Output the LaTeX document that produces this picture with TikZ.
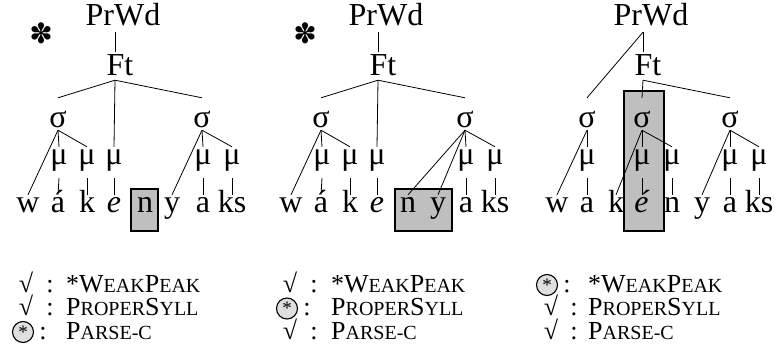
\documentclass[tikz,border=0pt]{standalone}
\usepackage{fontspec}
\setmainfont{Liberation Serif}
\newfontfamily\dingfont{DejaVu Sans}
\newcommand\treefont{\fontsize{32}{34}\selectfont}
\newcommand\consfont{\fontsize{26}{28}\selectfont}
\newcommand\smc[1]{{\fontsize{20}{21}\selectfont #1}}
\tikzset{
  tn/.style={inner sep=0pt, anchor=base, font=\treefont},
  prwd/.style={tn, text height=21pt, text depth=7pt},
  ftn/.style={tn, text height=23pt, text depth=5pt},
  sig/.style={tn, text height=29pt, text depth=3pt},
  mun/.style={tn, text height=17pt, text depth=14pt},
  seg/.style={tn, text height=17pt, text depth=6pt},
  edge/.style={line width=0.8pt},
  hibox/.style={draw=black, line width=1.5pt, fill=gray!50},
  bigstar/.style={font=\dingfont\fontsize{28}{28}\selectfont, inner sep=0pt},
  okmark/.style={font=\consfont, inner sep=0pt, anchor=base},
  cons/.style={font=\consfont, inner sep=0pt, anchor=base west},
  viol/.style={circle, draw=black, line width=1.1pt, fill=gray!25, minimum size=21pt, inner sep=0pt},
  violstar/.style={font=\fontsize{19}{19}\selectfont, inner sep=0pt},
}
\begin{document}
\begin{tikzpicture}[x=1pt,y=-1pt]
\useasboundingbox (0,0) rectangle (779,356);

% ---------------- panel 1 ----------------
\begin{scope}[name prefix=a-]
\draw[hibox] (131,189) rectangle (158,231);
\node[bigstar] (ast) at (41,33) {✽};
\node[prwd] (P) at (123,25) {PrWd};
\node[ftn] (F) at (120,75) {Ft};
\node[sig] (s1) at (58,127) {σ};
\node[sig] (s2) at (202,127) {σ};
\node[mun] (m1) at (59,164) {μ};
\node[mun] (m2) at (87,164) {μ};
\node[mun] (m3) at (114,164) {μ};
\node[mun] (m4) at (203,164) {μ};
\node[mun] (m5) at (232,164) {μ};
\node[seg] (w) at (28,212) {w};
\node[seg] (a1) at (58,212) {á};
\node[seg] (k) at (87,212) {k};
\node[seg] (e) at (114,212) {\textit{e}};
\node[seg] (n) at (145,212) {n};
\node[seg] (y) at (172,212) {y};
\node[seg] (a2) at (203,212) {a};
\node[seg] (ks) at (232,212) {ks};
\draw[edge] ([xshift=-8pt]P.south) -- ([xshift=-5pt]F.north);
\draw[edge] ([xshift=-5pt]F.south) -- (s1.north);
\draw[edge] ([xshift=-5pt]F.south) -- (m3.north);
\draw[edge] ([xshift=-5pt]F.south) -- (s2.north);
\draw[edge] (s1.south) -- (w.north);
\draw[edge] (s1.south) -- (m1.north);
\draw[edge] (s1.south) -- (m2.north);
\draw[edge] (s2.south) -- (y.north);
\draw[edge] (s2.south) -- (m4.north);
\draw[edge] (s2.south) -- (m5.north);
\draw[edge] (m1.south) -- (a1.north);
\draw[edge] (m2.south) -- (k.north);
\draw[edge] (m3.south) -- (e.north);
\draw[edge] (m4.south) -- (a2.north);
\draw[edge] (m5.south) -- (ks.north);
\end{scope}

% ---------------- panel 2 ----------------
\begin{scope}[xshift=263pt, name prefix=b-]
\draw[hibox] (132,189) rectangle (189,231);
\node[bigstar] (ast) at (42,33) {✽};
\node[prwd] (P) at (123,25) {PrWd};
\node[ftn] (F) at (120,75) {Ft};
\node[sig] (s1) at (58,127) {σ};
\node[sig] (s2) at (202,127) {σ};
\node[mun] (m1) at (59,164) {μ};
\node[mun] (m2) at (87,164) {μ};
\node[mun] (m3) at (114,164) {μ};
\node[mun] (m4) at (203,164) {μ};
\node[mun] (m5) at (232,164) {μ};
\node[seg] (w) at (28,212) {w};
\node[seg] (a1) at (58,212) {á};
\node[seg] (k) at (87,212) {k};
\node[seg] (e) at (114,212) {\textit{e}};
\node[seg] (n) at (145,212) {n};
\node[seg] (y) at (175,212) {y};
\node[seg] (a2) at (203,212) {a};
\node[seg] (ks) at (232,212) {ks};
\draw[edge] ([xshift=-8pt]P.south) -- ([xshift=-5pt]F.north);
\draw[edge] ([xshift=-5pt]F.south) -- (s1.north);
\draw[edge] ([xshift=-5pt]F.south) -- (m3.north);
\draw[edge] ([xshift=-5pt]F.south) -- (s2.north);
\draw[edge] (s1.south) -- (w.north);
\draw[edge] (s1.south) -- (m1.north);
\draw[edge] (s1.south) -- (m2.north);
\draw[edge] (s2.south) -- (n.north);
\draw[edge] (s2.south) -- (y.north);
\draw[edge] (s2.south) -- (m4.north);
\draw[edge] (s2.south) -- (m5.north);
\draw[edge] (m1.south) -- (a1.north);
\draw[edge] (m2.south) -- (k.north);
\draw[edge] (m3.south) -- (e.north);
\draw[edge] (m4.south) -- (a2.north);
\draw[edge] (m5.south) -- (ks.north);
\end{scope}

% ---------------- panel 3 ----------------
\begin{scope}[xshift=528pt, name prefix=c-]
\draw[hibox] (96,91) rectangle (136,231);
\node[prwd] (P) at (123,25) {PrWd};
\node[ftn] (F) at (120,75) {Ft};
\node[sig] (s1) at (59,127) {σ};
\node[sig] (s2) at (114,127) {σ};
\node[sig] (s3) at (202,127) {σ};
\node[mun] (m1) at (59,164) {μ};
\node[mun] (m2) at (114,164) {μ};
\node[mun] (m3) at (144,164) {μ};
\node[mun] (m4) at (202,164) {μ};
\node[mun] (m5) at (231,164) {μ};
\node[seg] (w) at (29,212) {w};
\node[seg] (a1) at (59,212) {a};
\node[seg] (k) at (88,212) {k};
\node[seg] (e) at (114,212) {\textit{é}};
\node[seg] (n) at (144,212) {n};
\node[seg] (y) at (174,212) {y};
\node[seg] (a2) at (202,212) {a};
\node[seg] (ks) at (231,212) {ks};
\draw[edge] ([xshift=-8pt]P.south) -- ([xshift=-5pt]F.north);
\draw[edge] ([xshift=-8pt]P.south) -- (s1.north);
\draw[edge] ([xshift=-5pt]F.south) -- (s2.north);
\draw[edge] ([xshift=-5pt]F.south) -- (s3.north);
\draw[edge] (s1.south) -- (w.north);
\draw[edge] (s1.south) -- (m1.north);
\draw[edge] (s2.south) -- (k.north);
\draw[edge] (s2.south) -- (m2.north);
\draw[edge] (s2.south) -- (m3.north);
\draw[edge] (s3.south) -- (y.north);
\draw[edge] (s3.south) -- (m4.north);
\draw[edge] (s3.south) -- (m5.north);
\draw[edge] (m1.south) -- (a1.north);
\draw[edge] (m2.south) -- (e.north);
\draw[edge] (m3.south) -- (n.north);
\draw[edge] (m4.south) -- (a2.north);
\draw[edge] (m5.south) -- (ks.north);
\end{scope}

% ---------------- constraint tableaux ----------------
% column 1
\node[okmark] (c1m1) at (26,292) {√};
\node[okmark] (c1k1) at (50,292) {:};
\node[cons] (c1t1) at (66,292) {*W\smc{EAK}P\smc{EAK}};
\node[okmark] (c1m2) at (26,315.5) {√};
\node[okmark] (c1k2) at (50,315.5) {:};
\node[cons] (c1t2) at (66,315.5) {P\smc{ROPER}S\smc{YLL}};
\node[viol] (c1m3) at (23,332) {};
\node[violstar] (c1s3) at (c1m3) {*};
\node[okmark] (c1k3) at (43,339) {:};
\node[cons] (c1t3) at (66,339) {P\smc{ARSE-C}};
% column 2
\node[okmark] (c2m1) at (290,292) {√};
\node[okmark] (c2k1) at (314,292) {:};
\node[cons] (c2t1) at (331,292) {*W\smc{EAK}P\smc{EAK}};
\node[viol] (c2m2) at (287,308.5) {};
\node[violstar] (c2s2) at (c2m2) {*};
\node[okmark] (c2k2) at (307,315.5) {:};
\node[cons] (c2t2) at (331,315.5) {P\smc{ROPER}S\smc{YLL}};
\node[okmark] (c2m3) at (290,339) {√};
\node[okmark] (c2k3) at (314,339) {:};
\node[cons] (c2t3) at (331,339) {P\smc{ARSE-C}};
% column 3
\node[viol] (c3m1) at (547,285) {};
\node[violstar] (c3s1) at (c3m1) {*};
\node[okmark] (c3k1) at (567,292) {:};
\node[cons] (c3t1) at (588,292) {*W\smc{EAK}P\smc{EAK}};
\node[okmark] (c3m2) at (551,315.5) {√};
\node[okmark] (c3k2) at (574,315.5) {:};
\node[cons] (c3t2) at (588,315.5) {P\smc{ROPER}S\smc{YLL}};
\node[okmark] (c3m3) at (551,339) {√};
\node[okmark] (c3k3) at (574,339) {:};
\node[cons] (c3t3) at (588,339) {P\smc{ARSE-C}};
\end{tikzpicture}
\end{document}
